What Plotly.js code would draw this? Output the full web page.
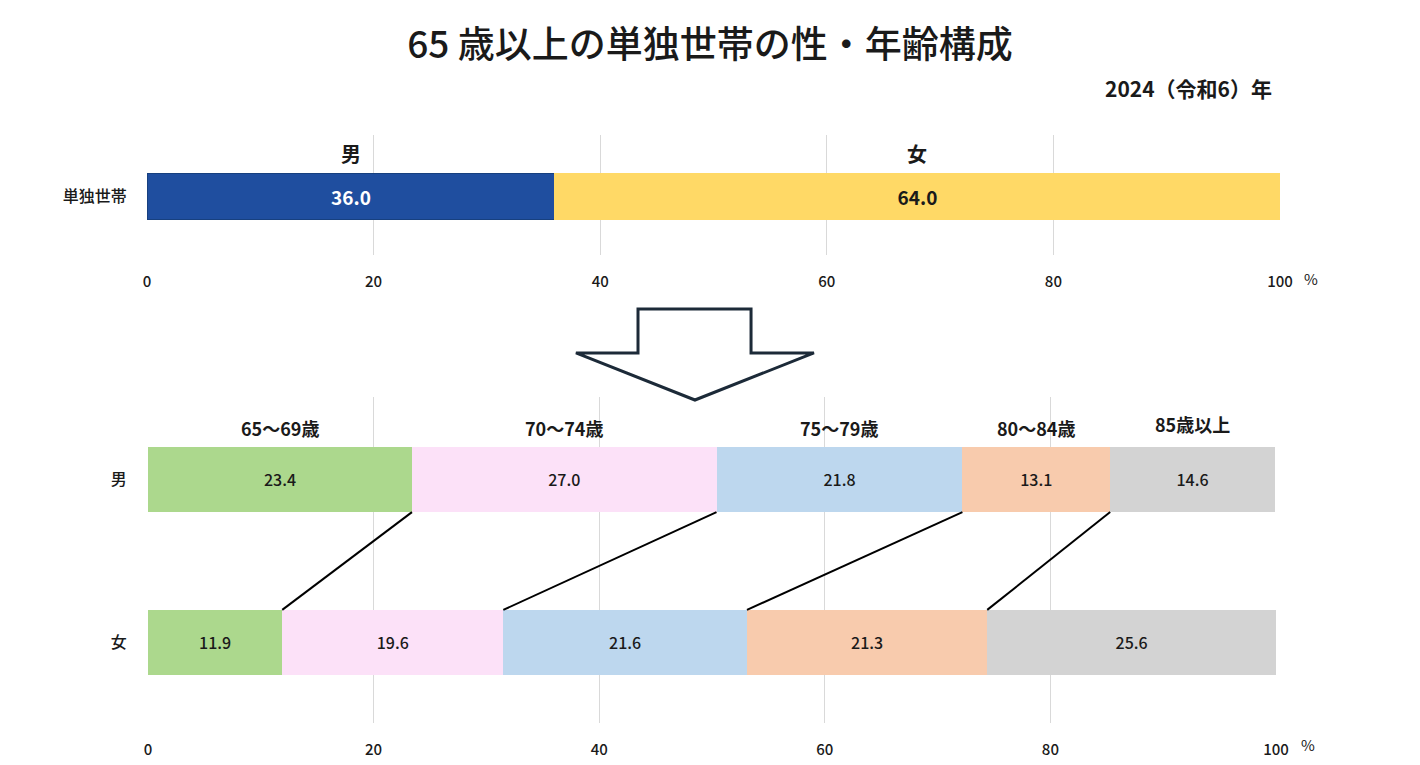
<!DOCTYPE html>
<html>
<head>
<meta charset="utf-8">
<script src="https://cdn.plot.ly/plotly-3.0.1.min.js"></script>
<style>
  html, body { margin: 0; padding: 0; background: #ffffff; }
  #chart { width: 1420px; height: 765px; }
</style>
</head>
<body>
<div id="chart"></div>
<script>
// ---- data ----
const titleText = '65 歳以上の単独世帯の性・年齢構成';
const yearText = '2024（令和6）年';
const topCategory = '単独世帯';
const sexLabels = ['男', '女'];
const sexShares = [36.0, 64.0];
const ageGroups = ['65～69歳', '70～74歳', '75～79歳', '80～84歳', '85歳以上'];
const maleShares = [23.4, 27.0, 21.8, 13.1, 14.6];
const femaleShares = [11.9, 19.6, 21.6, 21.3, 25.6];
const xTicks = [0, 20, 40, 60, 80, 100];

// ---- styles ----
const FONT = '"Noto Sans CJK JP", "Noto Sans", sans-serif';
const sexColors = ['#1f4e9f', '#ffd966'];
const sexTextColors = ['#ffffff', '#1a1a1a'];
const ageColors = ['#acd88d', '#fce1f8', '#bdd7ee', '#f8cbad', '#d3d3d3'];
const W = 1420, H = 765;
const px = x => x / W;
const py = y => 1 - y / H;

const traces = [];
const annotations = [];

// top chart: sex composition
sexLabels.forEach((s, i) => {
  traces.push({
    type: 'bar', orientation: 'h', xaxis: 'x', yaxis: 'y',
    x: [sexShares[i]], y: [0], width: 0.39,
    marker: { color: sexColors[i], line: { color: i === 0 ? '#17407f' : sexColors[i], width: 1 } },
    text: [sexShares[i].toFixed(1)], textposition: 'inside', insidetextanchor: 'middle',
    textfont: { family: FONT, size: 19, color: sexTextColors[i], weight: 'bold' },
    constraintext: 'none', hoverinfo: 'skip', name: s
  });
});
let cum = 0;
sexLabels.forEach((s, i) => {
  annotations.push({
    xref: 'x', yref: 'y', x: cum + sexShares[i] / 2, y: 0.3625,
    text: s, showarrow: false, yanchor: 'middle',
    font: { family: FONT, size: 20, color: '#1a1a1a', weight: 'bold' }
  });
  cum += sexShares[i];
});

// bottom chart: age composition by sex (男 at y=1, 女 at y=0)
ageGroups.forEach((g, i) => {
  traces.push({
    type: 'bar', orientation: 'h', xaxis: 'x2', yaxis: 'y2',
    x: [maleShares[i], femaleShares[i]], y: [1, 0], width: 0.4,
    marker: { color: ageColors[i], line: { width: 0 } },
    text: [maleShares[i].toFixed(1), femaleShares[i].toFixed(1)],
    textposition: 'inside', insidetextanchor: 'middle',
    textfont: { family: FONT, size: 16, color: '#1a1a1a', weight: 500 },
    constraintext: 'none', hoverinfo: 'skip', name: g
  });
});

// connecting lines between cumulative boundaries
let cm = 0, cf = 0;
for (let i = 0; i < ageGroups.length - 1; i++) {
  cm += maleShares[i];
  cf += femaleShares[i];
  traces.push({
    type: 'scatter', mode: 'lines', xaxis: 'x2', yaxis: 'y2',
    x: [cm, cf], y: [1 - 0.2, 0 + 0.2],
    line: { color: '#000000', width: 2 }, hoverinfo: 'skip', showlegend: false
  });
}

// age group labels above male segments
let cl = 0;
ageGroups.forEach((g, i) => {
  annotations.push({
    xref: 'x2', yref: 'y2', x: cl + maleShares[i] / 2, y: i === 4 ? 1.34 : 1.316,
    text: g, showarrow: false, yanchor: 'middle',
    font: { family: FONT, size: 18, color: '#1a1a1a', weight: 'bold' }
  });
  cl += maleShares[i];
});

// % units
annotations.push({ xref: 'paper', yref: 'paper', x: px(1302), y: py(278), text: '%', showarrow: false,
  xanchor: 'left', yanchor: 'middle', font: { family: FONT, size: 15, color: '#1a1a1a' } });
annotations.push({ xref: 'paper', yref: 'paper', x: px(1299), y: py(744), text: '%', showarrow: false,
  xanchor: 'left', yanchor: 'middle', font: { family: FONT, size: 15, color: '#1a1a1a' } });

// year subtitle
annotations.push({ xref: 'paper', yref: 'paper', x: px(1274), y: py(88), text: yearText, showarrow: false,
  xanchor: 'right', yanchor: 'middle', font: { family: FONT, size: 21, color: '#1a1a1a', weight: 'bold' } });

// decorative down arrow
const arrowPts = [[638, 309], [751, 309], [751, 353], [814, 353], [695, 400], [576, 353], [638, 353]];
const arrowPath = 'M ' + arrowPts.map(p => px(p[0]).toFixed(4) + ',' + py(p[1]).toFixed(4)).join(' L ') + ' Z';

const axisTickFont = { family: FONT, size: 15, color: '#1a1a1a', weight: 500 };
const xaxisBase = {
  range: [0, 100], tickvals: xTicks, ticktext: xTicks.map(String),
  showgrid: true, gridcolor: '#d9d9d9', gridwidth: 1,
  zeroline: false, showline: false,
  ticks: 'outside', ticklen: 13, tickcolor: 'rgba(0,0,0,0)',
  tickfont: axisTickFont, fixedrange: true
};

const layout = {
  width: W, height: H,
  margin: { l: 0, r: 0, t: 0, b: 0 },
  paper_bgcolor: '#ffffff', plot_bgcolor: '#ffffff',
  showlegend: false, barmode: 'stack', hovermode: false,
  title: {
    text: titleText, x: 0.5, xanchor: 'center', y: py(45), yanchor: 'middle',
    font: { family: FONT, size: 37, color: '#1a1a1a', weight: 500 }
  },
  xaxis: Object.assign({}, xaxisBase, { domain: [px(147), px(1280)], anchor: 'y' }),
  yaxis: {
    domain: [py(255), py(135)], anchor: 'x', range: [-0.4875, 0.5125],
    tickvals: [0], ticktext: [topCategory], showgrid: false, zeroline: false, showline: false,
    ticks: 'outside', ticklen: 16, tickcolor: 'rgba(0,0,0,0)',
    tickfont: { family: FONT, size: 16, color: '#1a1a1a', weight: 500 }, fixedrange: true
  },
  xaxis2: Object.assign({}, xaxisBase, { domain: [px(148), px(1276)], anchor: 'y2' }),
  yaxis2: {
    domain: [py(723), py(397)], anchor: 'x2', range: [-0.494, 1.506],
    tickvals: [1, 0], ticktext: sexLabels, showgrid: false, zeroline: false, showline: false,
    ticks: 'outside', ticklen: 17, tickcolor: 'rgba(0,0,0,0)',
    tickfont: { family: FONT, size: 16, color: '#1a1a1a', weight: 500 }, fixedrange: true
  },
  annotations: annotations,
  shapes: [{
    type: 'path', xref: 'paper', yref: 'paper', path: arrowPath,
    line: { color: '#1c2a38', width: 3 }, fillcolor: '#ffffff', layer: 'above'
  }]
};

Plotly.newPlot('chart', traces, layout, { displayModeBar: false, staticPlot: true });
</script>
</body>
</html>
